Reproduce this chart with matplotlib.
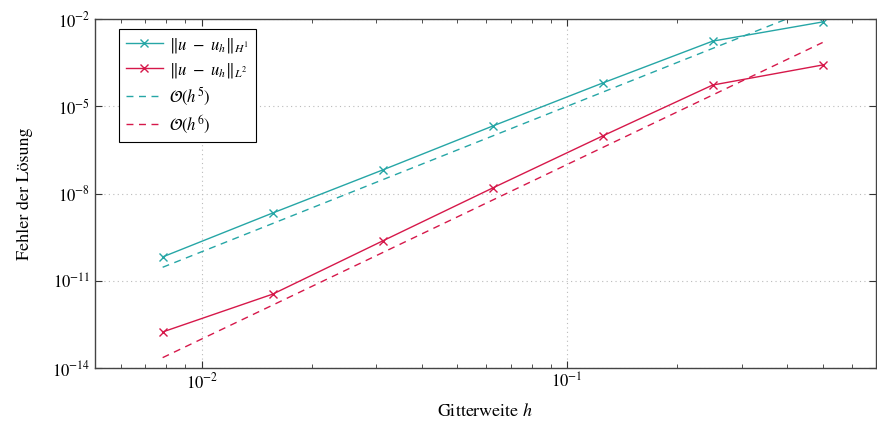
import numpy as np
import matplotlib
matplotlib.use("Agg")
import matplotlib.pyplot as plt
from matplotlib.ticker import LogLocator, NullFormatter, NullLocator

plt.rcParams['font.family'] = 'STIXGeneral'
plt.rcParams['mathtext.fontset'] = 'stix'

# Gitterweiten und Fehler
h = np.array([1/128, 1/64, 1/32, 1/16, 1/8, 1/4, 1/2])
err_h1 = np.array([10**-10.18, 10**-8.67, 10**-7.19, 10**-5.68, 10**-4.20, 10**-2.76, 10**-2.10])
err_l2 = np.array([10**-12.76, 10**-11.46, 10**-9.63, 10**-7.81, 10**-6.02, 10**-4.27, 10**-3.58])
c5 = 1.0
c6 = 0.1

teal = '#26a6a6'
red = '#d6184a'

fig = plt.figure(figsize=(8.77, 4.23), dpi=100)
ax = fig.add_axes([0.1083, 0.130, 0.8906, 0.825])

ax.loglog(h, err_h1, color=teal, marker='x', markersize=5.5, lw=1.0,
          label=r'$\Vert u\ -\ u_h\Vert_{H^1}$')
ax.loglog(h, err_l2, color=red, marker='x', markersize=5.5, lw=1.0,
          label=r'$\Vert u\ -\ u_h\Vert_{L^2}$')
ax.loglog(h, c5 * h**5, color=teal, ls=(0, (5, 4)), lw=1.0,
          label=r'$\mathcal{O}(h^5)$')
ax.loglog(h, c6 * h**6, color=red, ls=(0, (5, 4)), lw=1.0,
          label=r'$\mathcal{O}(h^6)$')

ax.set_xlim(0.0051, 0.70)
ax.set_ylim(1e-14, 1e-2)
ax.set_yticks([1e-14, 1e-11, 1e-8, 1e-5, 1e-2])
ax.yaxis.set_minor_locator(NullLocator())
ax.xaxis.set_minor_locator(LogLocator(base=10, subs=np.arange(2, 10)))
ax.xaxis.set_minor_formatter(NullFormatter())

ax.tick_params(which='both', direction='in', top=True, right=True, labelsize=12, colors='#333333',
               labelcolor='black')
ax.tick_params(which='major', length=5)
ax.tick_params(which='minor', length=3)
ax.grid(True, which='major', ls=(0, (1, 3)), color='#bbbbbb', lw=0.8)
for s in ax.spines.values():
    s.set_color('#444444')
    s.set_linewidth(1.0)

ax.set_xlabel(r'Gitterweite $h$', fontsize=13, labelpad=7)
ax.set_ylabel('Fehler der Lösung', fontsize=13, labelpad=14)

leg = ax.legend(loc='upper left', bbox_to_anchor=(0.031, 0.971), borderaxespad=0, fontsize=12,
                fancybox=False, framealpha=1, edgecolor='black', handlelength=2.2,
                handletextpad=0.4, borderpad=0.4, labelspacing=0.35)
leg.get_frame().set_linewidth(0.8)

fig.savefig('out.png', dpi=100)
